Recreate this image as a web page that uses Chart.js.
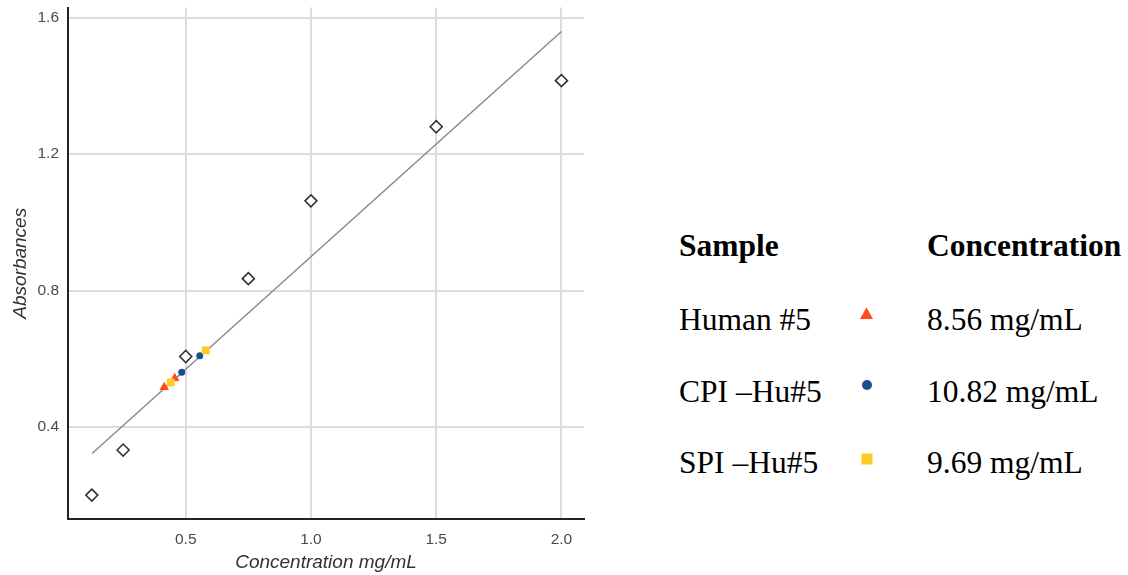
<!DOCTYPE html>
<html lang="en">
<head>
  <meta charset="UTF-8">
  <title>Standard curve</title>
  <script src="https://cdn.jsdelivr.net/npm/chart.js"></script>
  <style>
    body {
      margin: 0;
      background: #fff;
      width: 1128px;
      height: 575px;
      position: relative;
      overflow: hidden;
    }
    #chart-box {
      position: absolute;
      left: 0;
      top: 0;
      width: 600px;
      height: 575px;
    }
    .lg {
      position: absolute;
      font-family: "Liberation Serif", "Times New Roman", serif;
      font-size: 31.5px;
      line-height: 31.5px;
      color: #000;
      white-space: nowrap;
    }
    .lg.head {
      font-weight: bold;
    }
    .mk {
      position: absolute;
    }
  </style>
</head>
<body>
<div id="chart-box"><canvas id="curve"></canvas></div>

<div class="lg head" style="left:679px; top:230px;">Sample</div>
<div class="lg head" style="left:927px; top:230px;">Concentration</div>

<div class="lg" style="left:679px; top:304px;">Human #5</div>
<svg class="mk" style="left:859px; top:307px;" width="15" height="13"><polygon points="7.5,0.5 14,12 1,12" fill="#ff4a1c"/></svg>
<div class="lg" style="left:927px; top:304px;">8.56 mg/mL</div>

<div class="lg" style="left:679px; top:376px;">CPI –Hu#5</div>
<svg class="mk" style="left:861px; top:379px;" width="12" height="12"><circle cx="6" cy="6" r="5" fill="#1b4e8e"/></svg>
<div class="lg" style="left:927px; top:376px;">10.82 mg/mL</div>

<div class="lg" style="left:679px; top:447px;">SPI –Hu#5</div>
<svg class="mk" style="left:861px; top:453px;" width="12" height="12"><rect x="0.5" y="0.5" width="11" height="11" fill="#ffc928"/></svg>
<div class="lg" style="left:927px; top:447px;">9.69 mg/mL</div>

<script>
// standards (open diamonds)
const stdX = [0.125, 0.25, 0.5, 0.75, 1.0, 1.5, 2.0];
const stdY = [0.201, 0.333, 0.607, 0.835, 1.063, 1.28, 1.415];

// fitted line, end points
const fitX = [0.126, 2.0];
const fitY = [0.323, 1.559];

// samples
const humanX = [0.414, 0.456];
const humanY = [0.517, 0.543];
const cpiX = [0.484, 0.556];
const cpiY = [0.561, 0.609];
const spiX = [0.44, 0.58];
const spiY = [0.531, 0.625];

const xTicks = [0.5, 1.0, 1.5, 2.0];
const yTicks = [0.4, 0.8, 1.2, 1.6];

function pts(xs, ys) {
  return xs.map((x, i) => ({ x: x, y: ys[i] }));
}

function noPad(s) {
  s.paddingTop = 0;
  s.paddingBottom = 0;
  s.paddingLeft = 0;
  s.paddingRight = 0;
}

const tickFont = { family: "'Liberation Sans', Arial, sans-serif", size: 15.5 };
const titleFont = { family: "'Liberation Sans', Arial, sans-serif", size: 19, style: 'italic' };

new Chart(document.getElementById('curve'), {
  type: 'scatter',
  data: {
    datasets: [
      {
        data: pts(fitX, fitY),
        showLine: true,
        borderColor: '#8a8a8a',
        borderWidth: 1.5,
        pointRadius: 0,
        order: 5
      },
      {
        data: pts(stdX, stdY),
        pointStyle: 'rectRot',
        pointRadius: 6,
        backgroundColor: '#fff',
        borderColor: '#333',
        borderWidth: 1.6,
        order: 4
      },
      {
        data: pts(humanX, humanY),
        pointStyle: 'triangle',
        pointRadius: 5.5,
        backgroundColor: '#ff4a1c',
        borderWidth: 0,
        order: 3
      },
      {
        data: pts(cpiX, cpiY),
        pointStyle: 'circle',
        pointRadius: 3.5,
        backgroundColor: '#1b4e8e',
        borderWidth: 0,
        order: 2
      },
      {
        data: pts(spiX, spiY),
        pointStyle: 'rect',
        pointRadius: 5.5,
        backgroundColor: '#ffc928',
        borderWidth: 0,
        order: 1
      }
    ]
  },
  options: {
    responsive: true,
    maintainAspectRatio: false,
    animation: false,
    layout: { padding: { left: 0, top: 2, right: 16, bottom: 0 } },
    plugins: {
      legend: { display: false },
      tooltip: { enabled: false }
    },
    scales: {
      x: {
        type: 'linear',
        min: 0.03,
        max: 2.09,
        afterBuildTicks: s => { s.ticks = xTicks.map(v => ({ value: v })); },
        afterFit: s => { s.height = 56; noPad(s); },
        ticks: {
          callback: v => v.toFixed(1),
          color: '#4a4a4a',
          font: tickFont,
          padding: 11,
          maxRotation: 0
        },
        grid: { color: '#dcdcdc', lineWidth: 2, drawTicks: false },
        border: { display: true, color: '#222', width: 2 },
        title: {
          display: true,
          text: 'Concentration mg/mL',
          color: '#333',
          font: titleFont,
          padding: { top: 0, bottom: 1 }
        }
      },
      y: {
        type: 'linear',
        min: 0.131,
        max: 1.629,
        afterBuildTicks: s => { s.ticks = yTicks.map(v => ({ value: v })); },
        afterFit: s => { s.width = 68; noPad(s); },
        ticks: {
          callback: v => v.toFixed(1),
          color: '#4a4a4a',
          font: tickFont,
          padding: 9
        },
        grid: { color: '#dcdcdc', lineWidth: 2, drawTicks: false },
        border: { display: true, color: '#222', width: 2 },
        title: {
          display: true,
          text: 'Absorbances',
          color: '#333',
          font: titleFont,
          padding: { top: 9, bottom: 0 }
        }
      }
    }
  }
});
</script>
</body>
</html>
